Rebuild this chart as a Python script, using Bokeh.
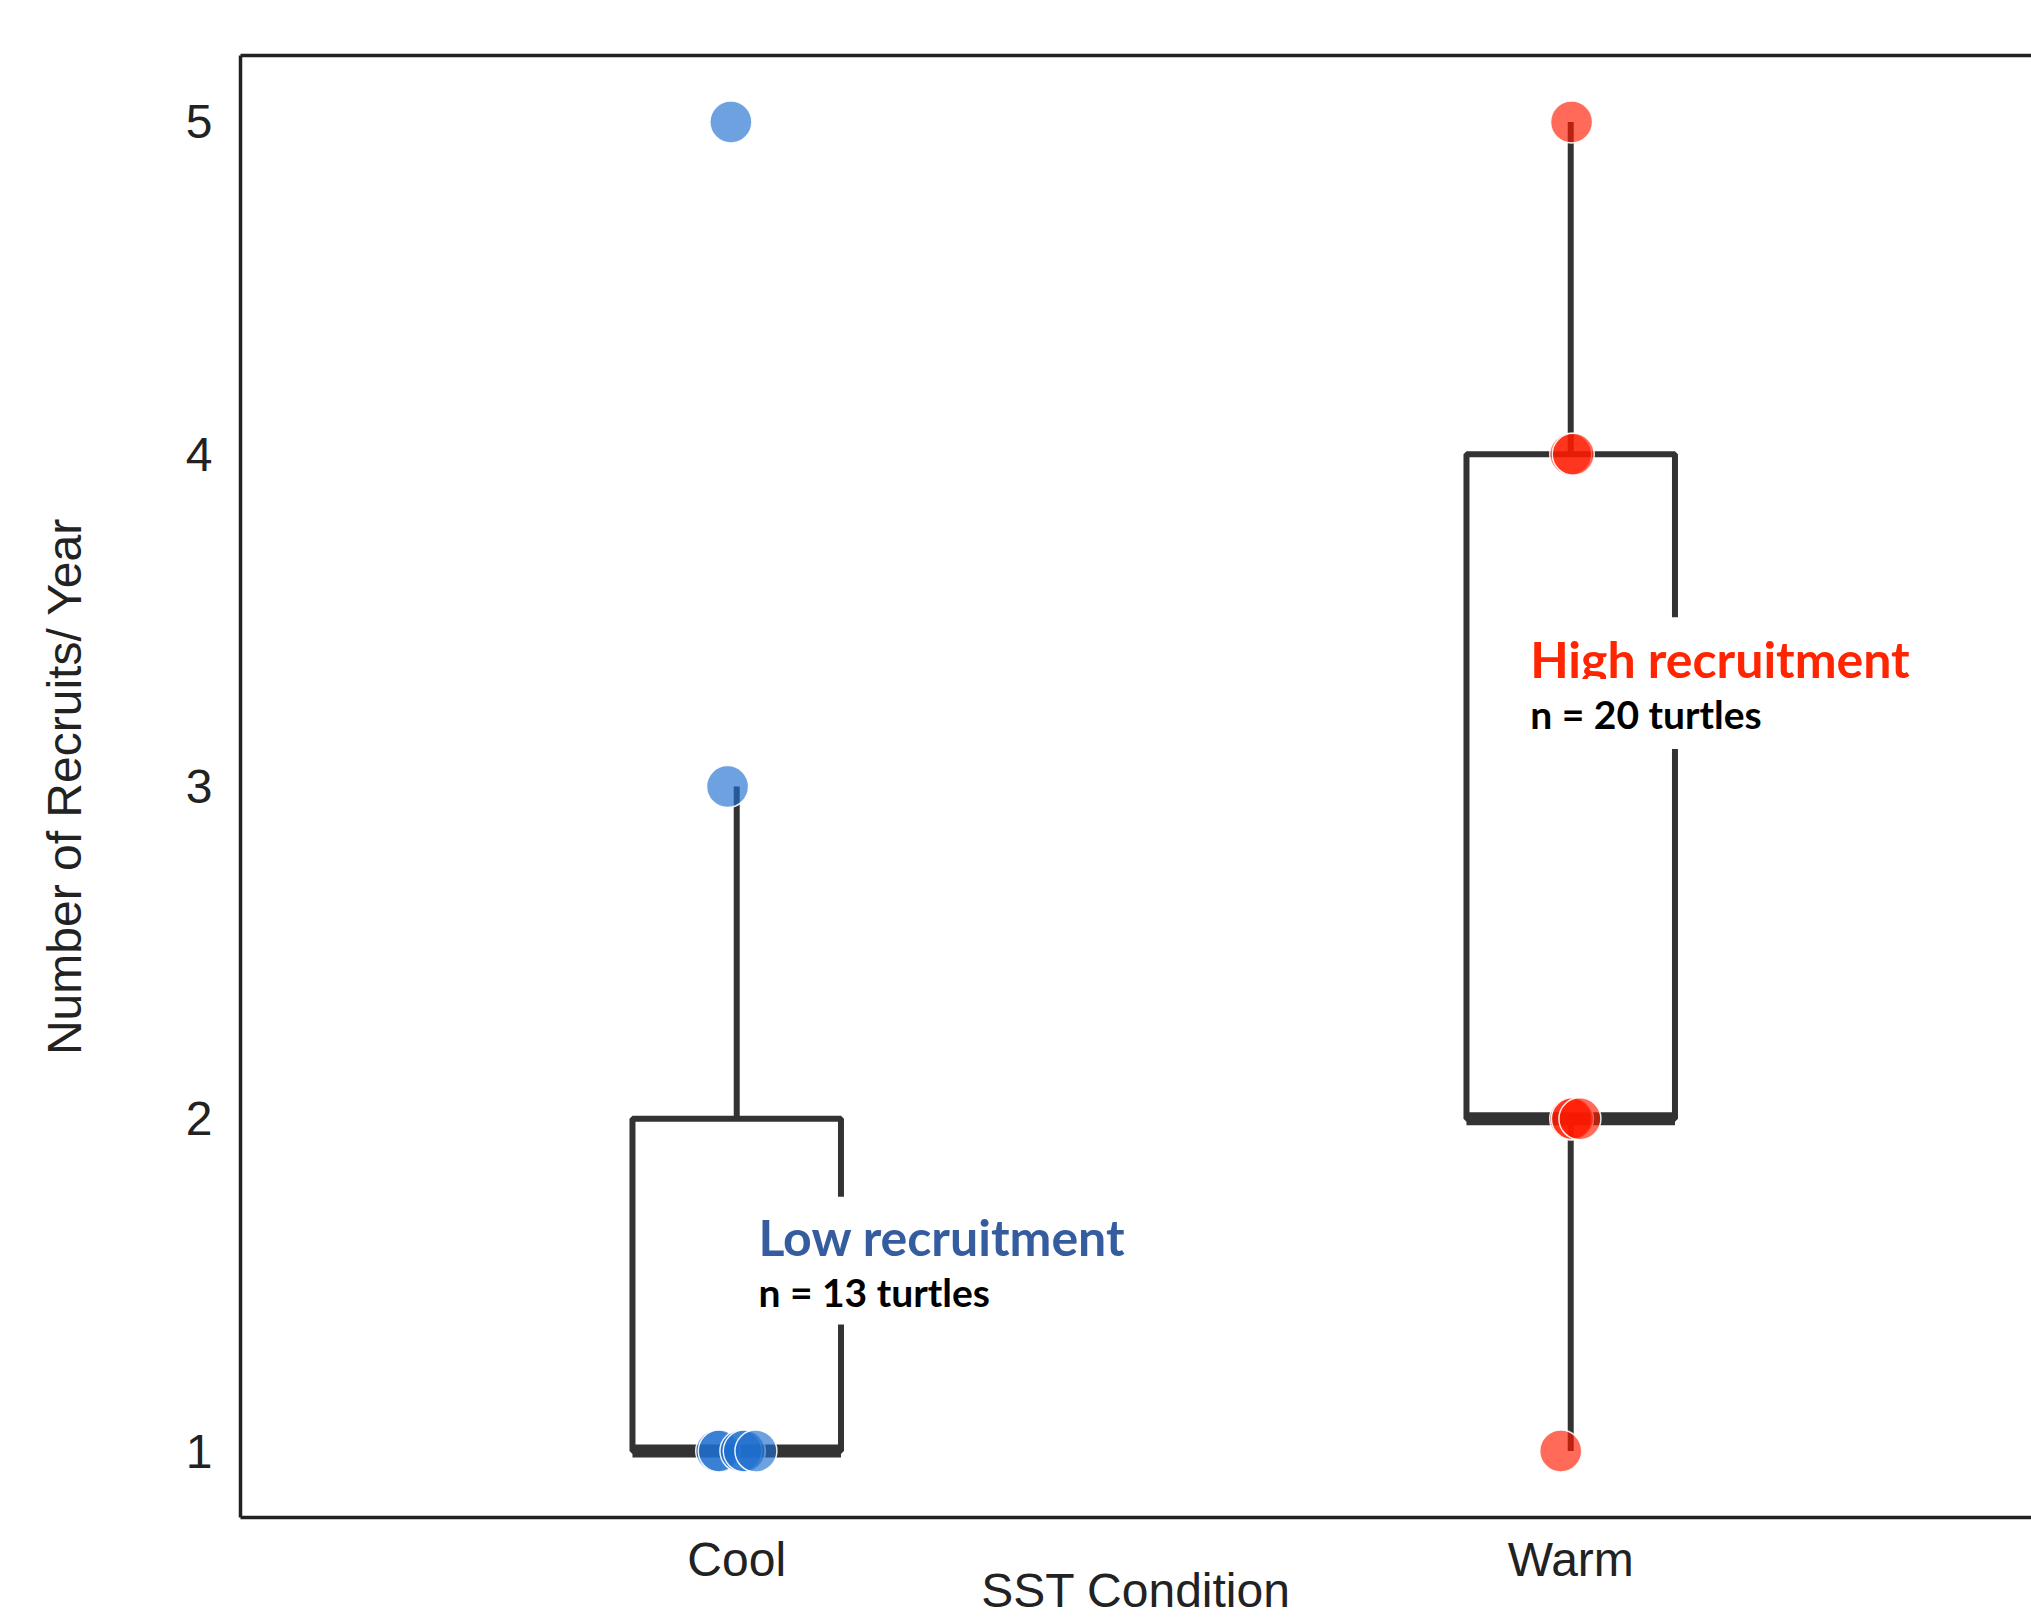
from bokeh.plotting import figure
from bokeh.models import Range1d, FixedTicker, Label, ColumnDataSource, LinearAxis
from bokeh.embed import file_html
from bokeh.resources import INLINE

# ---------------- data ----------------
categories = ["Cool", "Warm"]
box_q1 = [1, 2]
box_median = [1, 2]
box_q3 = [2, 4]
whisker_low = [1, 1]
whisker_high = [3, 5]

cool_values = [5, 3, 1, 1, 1, 1, 1]
cool_jitter = [-0.007, -0.011, -0.024, -0.021, 0.005, 0.009, 0.023]
warm_values = [5, 4, 4, 2, 2, 2, 1]
warm_jitter = [0.001, 0.0, 0.003, 0.0, 0.002, 0.011, -0.012]

y_ticks = [1, 2, 3, 4, 5]
x_title = "SST Condition"
y_title = "Number of Recruits/ Year"
cool_note = ["Low recruitment", "n = 13 turtles"]
warm_note = ["High recruitment", "n = 20 turtles"]

# ---------------- layout ----------------
W, H = 2031, 1621
LEFT, TOP, BOTTOM = 240, 55, 104
PX_PER_UNIT = 834.0
X0 = 0.405
xpos = [i + 1 for i in range(len(categories))]
box_w = 0.25

AXIS_FONT = "Liberation Sans"
NOTE_FONT = "Lato"
INK = "#222222"
BOX = "#333333"

p = figure(width=W, height=H, output_backend="svg", toolbar_location=None,
           x_range=Range1d(X0, X0 + (W - LEFT) / PX_PER_UNIT),
           y_range=Range1d(0.8, 5.2),
           min_border_left=LEFT, min_border_top=TOP,
           min_border_bottom=BOTTOM, min_border_right=0,
           x_axis_location="below", y_axis_location="left")
p.outline_line_color = None
p.xgrid.grid_line_color = None
p.ygrid.grid_line_color = None
p.background_fill_color = "white"
p.border_fill_color = "white"

# y axis
ya = p.yaxis[0]
ya.ticker = FixedTicker(ticks=y_ticks)
ya.major_label_overrides = {t: str(t) for t in y_ticks}
ya.major_tick_line_color = None
ya.minor_tick_line_color = None
ya.major_tick_out = 0
ya.major_tick_in = 0
ya.axis_line_color = INK
ya.axis_line_width = 3.5
ya.major_label_text_font = AXIS_FONT
ya.major_label_text_font_size = "48px"
ya.major_label_text_color = INK
ya.major_label_standoff = 28
ya.axis_label = y_title
ya.axis_label_text_font = AXIS_FONT
ya.axis_label_text_font_size = "48px"
ya.axis_label_text_font_style = "normal"
ya.axis_label_text_color = INK
ya.axis_label_standoff = 92

# x axis
xa = p.xaxis[0]
xa.ticker = FixedTicker(ticks=xpos)
xa.major_label_overrides = {x: c for x, c in zip(xpos, categories)}
xa.major_tick_line_color = None
xa.minor_tick_line_color = None
xa.major_tick_out = 0
xa.major_tick_in = 0
xa.axis_line_color = INK
xa.axis_line_width = 3.5
xa.major_label_text_font = AXIS_FONT
xa.major_label_text_font_size = "48px"
xa.major_label_text_color = INK
xa.major_label_standoff = 15
xa.axis_label = x_title
xa.axis_label_text_font = AXIS_FONT
xa.axis_label_text_font_size = "48px"
xa.axis_label_text_font_style = "normal"
xa.axis_label_text_color = INK
xa.axis_label_standoff = -25

# top border line
top_axis = LinearAxis(ticker=FixedTicker(ticks=[]), axis_line_color=INK,
                      axis_line_width=3.5, major_tick_line_color=None,
                      minor_tick_line_color=None, major_label_text_font_size="0px")
p.add_layout(top_axis, "above")

# ---------------- boxes ----------------
src = ColumnDataSource(dict(
    x=xpos, q1=box_q1, q3=box_q3, med=box_median, lo=whisker_low, hi=whisker_high,
    x0=[x - box_w / 2 for x in xpos], x1=[x + box_w / 2 for x in xpos],
))
p.segment(x0="x", y0="q3", x1="x", y1="hi", source=src, line_color=BOX, line_width=6)
p.segment(x0="x", y0="lo", x1="x", y1="q1", source=src, line_color=BOX, line_width=6)
p.vbar(x="x", width=box_w, bottom="q1", top="q3", source=src,
       fill_color=None, line_color=BOX, line_width=6)
p.segment(x0="x0", y0="med", x1="x1", y1="med", source=src,
          line_color=BOX, line_width=13, line_cap="butt")

# ---------------- points ----------------
p.scatter(x=[xpos[0] + j for j in cool_jitter], y=cool_values, size=42,
          fill_color="#1F6FD0", fill_alpha=0.65, line_color="white",
          line_alpha=0.9, line_width=1.5)
p.scatter(x=[xpos[1] + j for j in warm_jitter], y=warm_values, size=42,
          fill_color="#FF1A00", fill_alpha=0.65, line_color="white",
          line_alpha=0.9, line_width=1.5)

# ---------------- annotations ----------------
def note(x, y, text, size, color, pad):
    p.add_layout(Label(x=x, y=y, text=text, text_font=NOTE_FONT,
                       text_font_size=size, text_font_style="bold",
                       text_color=color, text_baseline="alphabetic",
                       text_align="left", background_fill_color="white",
                       background_fill_alpha=1.0, padding=pad))

note(xpos[0] + 0.014, 1.645, cool_note[0], "50px", "#355C9F", 10)
note(xpos[0] + 0.014, 1.48, cool_note[1], "39px", "black", 10)
note(xpos[1] - 0.063, 3.383, warm_note[0], "50px", "#FF2500", 12)
note(xpos[1] - 0.063, 3.218, warm_note[1], "39px", "black", 12)

open("out.html", "w").write(file_html(p, INLINE))
